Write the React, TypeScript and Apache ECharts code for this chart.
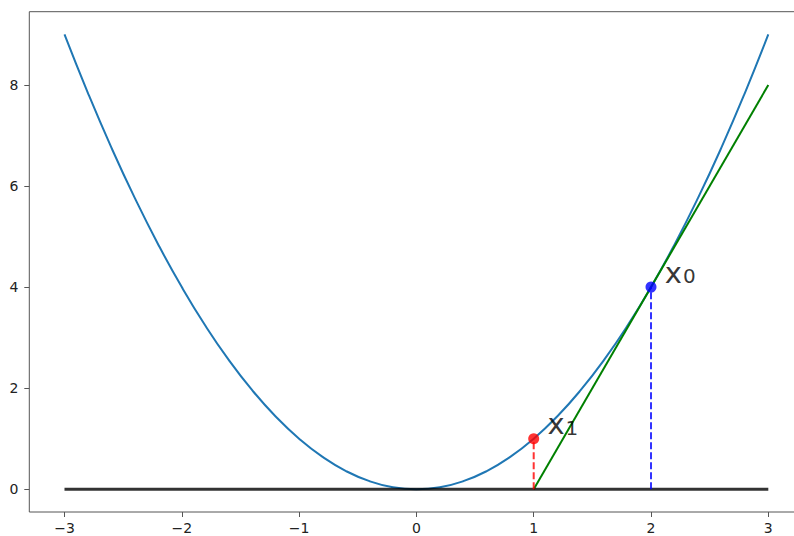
import React, { useEffect, useRef } from "react";
import * as echarts from "echarts";

// f(x) = x^2
const curveX = [-3, -2.8, -2.6, -2.4, -2.2, -2, -1.8, -1.6, -1.4, -1.2, -1, -0.8, -0.6, -0.4, -0.2, 0, 0.2, 0.4, 0.6, 0.8, 1, 1.2, 1.4, 1.6, 1.8, 2, 2.2, 2.4, 2.6, 2.8, 3];
const curveY = [9, 7.84, 6.76, 5.76, 4.84, 4, 3.24, 2.56, 1.96, 1.44, 1, 0.64, 0.36, 0.16, 0.04, 0, 0.04, 0.16, 0.36, 0.64, 1, 1.44, 1.96, 2.56, 3.24, 4, 4.84, 5.76, 6.76, 7.84, 9];
// tangent at x0 = 2
const tangentX = [1, 3];
const tangentY = [0, 8];
// baseline y = 0
const baseX = [-3, 3];
const baseY = [0, 0];
// points
const x0Point = [2, 4];
const x1Point = [1, 1];
const x0Label = [2.1, 4.1];
const x1Label = [1.1, 1.1];
const xTicks = [-3, -2, -1, 0, 1, 2, 3];
const yTicks = [0, 2, 4, 6, 8];

const zip = (xs: number[], ys: number[]) => xs.map((x, i) => [x, ys[i]]);

export default function App() {
  const ref = useRef<HTMLDivElement>(null);
  useEffect(() => {
    if (!ref.current) return;
    const chart = echarts.init(ref.current, null, { renderer: "svg" });
    const textColor = "#222";
    const spine = "#555";
    const font = "DejaVu Sans";
    const labelRich = (sub: string) => ({
      show: true,
      position: [0, 0],
      align: "left",
      verticalAlign: "bottom",
      offset: [2, 4],
      formatter: `{a|x}{b|${sub}}`,
      rich: {
        a: { fontSize: 29, lineHeight: 28, fontFamily: font, color: "#000", verticalAlign: "top" },
        b: { fontSize: 20, lineHeight: 20, fontFamily: font, color: "#000", verticalAlign: "bottom", padding: [12, 0, 0, 1] },
      },
    });
    chart.setOption({
      animation: false,
      grid: {
        left: 29.3,
        right: -9.5,
        top: 11.7,
        bottom: 24,
        outerBoundsMode: "none",
        containLabel: false,
        show: true,
        borderColor: spine,
        borderWidth: 1,
        backgroundColor: "transparent",
      },
      xAxis: {
        type: "value",
        min: -3.3,
        max: 3.3,
        axisLine: { show: false, onZero: false },
        splitLine: { show: false },
        axisTick: { show: true, length: 5, customValues: xTicks, lineStyle: { color: spine } },
        axisLabel: {
          customValues: xTicks,
          margin: 9,
          fontSize: 14,
          fontFamily: font,
          color: textColor,
          formatter: (v: number) => String(v).replace("-", "\u2212"),
        },
      },
      yAxis: {
        type: "value",
        min: -0.45,
        max: 9.45,
        axisLine: { show: false, onZero: false },
        splitLine: { show: false },
        axisTick: { show: true, length: 5, customValues: yTicks, lineStyle: { color: spine } },
        axisLabel: {
          customValues: yTicks,
          margin: 11,
          fontSize: 14,
          fontFamily: font,
          color: textColor,
        },
      },
      series: [
        {
          type: "line",
          data: zip(curveX, curveY),
          showSymbol: false,
          symbol: "none",
          smooth: 0.5,
          lineStyle: { color: "#1f77b4", width: 2 },
          z: 2,
        },
        {
          type: "line",
          data: zip(tangentX, tangentY),
          symbol: "none",
          lineStyle: { color: "#008000", width: 2 },
          z: 3,
        },
        {
          type: "line",
          data: zip(baseX, baseY),
          symbol: "none",
          lineStyle: { color: "rgba(0,0,0,0.8)", width: 3 },
          z: 4,
        },
        {
          type: "line",
          data: [[x1Point[0], 0], x1Point],
          symbol: "none",
          lineStyle: { color: "rgba(255,0,0,0.8)", width: 2, type: [7, 3] },
          z: 5,
        },
        {
          type: "line",
          data: [[x0Point[0], 0], x0Point],
          symbol: "none",
          lineStyle: { color: "rgba(0,0,255,0.8)", width: 2, type: [7, 3] },
          z: 5,
        },
        {
          type: "scatter",
          data: [x1Point],
          symbolSize: 11,
          itemStyle: { color: "#ff0000" },
          z: 6,
        },
        {
          type: "scatter",
          data: [x0Point],
          symbolSize: 11,
          itemStyle: { color: "#0000ff" },
          z: 6,
        },
        {
          type: "scatter",
          data: [x0Label],
          symbolSize: 0,
          label: labelRich("0"),
          z: 7,
        },
        {
          type: "scatter",
          data: [x1Label],
          symbolSize: 0,
          label: labelRich("1"),
          z: 7,
        },
      ],
    });
    return () => chart.dispose();
  }, []);
  return (
    <div
      ref={ref}
      style={{ position: "absolute", left: 0, top: 0, width: 794, height: 536, background: "#fff" }}
    />
  );
}
